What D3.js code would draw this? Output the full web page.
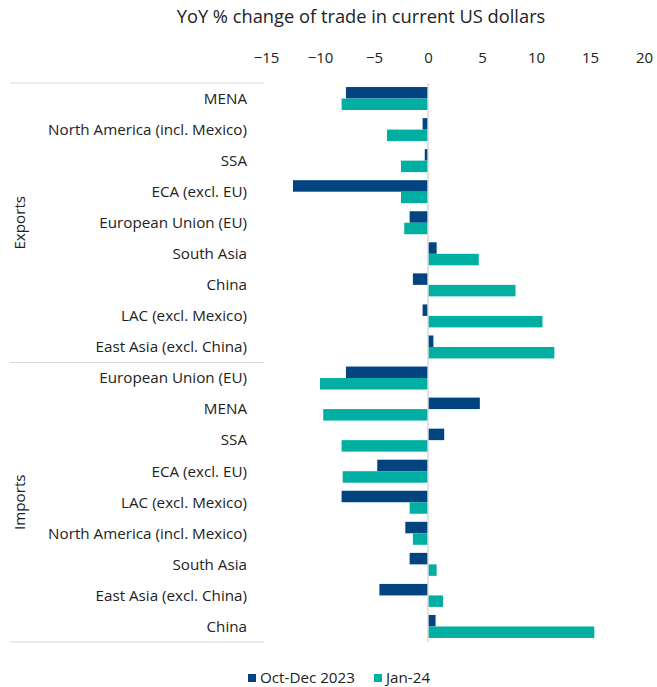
<!DOCTYPE html>
<html><head><meta charset="utf-8">
<script src="https://cdn.jsdelivr.net/npm/d3@7"></script>
<style>body{margin:0;background:#fff}svg{display:block;font-family:"Open Sans",sans-serif}</style>
</head><body><svg id="c" width="657" height="687"></svg>
<script>
const title = "YoY % change of trade in current US dollars";
const groups = ["Exports", "Imports"];
const exportCategories = ["MENA","North America (incl. Mexico)","SSA","ECA (excl. EU)","European Union (EU)","South Asia","China","LAC (excl. Mexico)","East Asia (excl. China)"];
const importCategories = ["European Union (EU)","MENA","SSA","ECA (excl. EU)","LAC (excl. Mexico)","North America (incl. Mexico)","South Asia","East Asia (excl. China)","China"];
const seriesNames = ["Oct-Dec 2023", "Jan-24"];
const exportsOctDec = [-7.6,-0.5,-0.3,-12.5,-1.7,0.8,-1.4,-0.5,0.5];
const exportsJan = [-8.0,-3.8,-2.5,-2.5,-2.2,4.7,8.1,10.6,11.7];
const importsOctDec = [-7.6,4.8,1.5,-4.7,-8.0,-2.1,-1.7,-4.5,0.7];
const importsJan = [-10.0,-9.7,-8.0,-7.9,-1.7,-1.4,0.8,1.4,15.4];
const xTicks = [-15,-10,-5,0,5,10,15,20];
const colors = ["#01447f", "#00afa1"];

(function(){
const rows = [];
exportCategories.forEach((c,i)=>rows.push({group:"Exports",cat:c,v:[exportsOctDec[i],exportsJan[i]]}));
importCategories.forEach((c,i)=>rows.push({group:"Imports",cat:c,v:[importsOctDec[i],importsJan[i]]}));

const svg = d3.select("#c");
const x = d3.scaleLinear().domain([-15,20]).range([266,644]);
const plotTop = 83, plotBottom = 642;
const y = d3.scaleBand().domain(d3.range(rows.length)).range([plotTop,plotBottom]).paddingInner(0.26).paddingOuter(0.13);
const y1 = d3.scaleBand().domain([0,1]).range([0,y.bandwidth()]);
const step = (plotBottom-plotTop)/rows.length;

svg.append("text").attr("x",361).attr("y",23).attr("text-anchor","middle")
  .attr("font-size",18.3).attr("fill","#222").text(title);

const ax = svg.append("g").attr("transform","translate(0,63)")
  .call(d3.axisTop(x).tickValues(xTicks).tickSize(0).tickPadding(0).tickFormat(d3.format("d")));
ax.select(".domain").remove();
ax.selectAll("text").attr("font-size",15).attr("fill","#222").attr("font-family","'Open Sans',sans-serif");

const sepY = [plotTop, plotTop + exportCategories.length*step, plotBottom];
svg.selectAll(".sep").data(sepY).join("line")
  .attr("x1",10).attr("x2",264).attr("y1",d=>d).attr("y2",d=>d)
  .attr("stroke","#d9d9d9").attr("stroke-width",1.2);

const g = svg.append("g");
rows.forEach((r,i)=>{
  r.v.forEach((v,s)=>{
    g.append("rect")
      .attr("x", x(Math.min(0,v)))
      .attr("width", Math.abs(x(v)-x(0)))
      .attr("y", y(i)+y1(s))
      .attr("height", y1.bandwidth())
      .attr("fill", colors[s]);
  });
});

svg.append("line").attr("x1",x(0)).attr("x2",x(0)).attr("y1",plotTop).attr("y2",plotBottom)
  .attr("stroke","#d9d9d9").attr("stroke-width",1.5);

svg.selectAll(".cl").data(rows).join("text")
  .attr("x",247).attr("y",(d,i)=>y(i)+y.bandwidth()/2).attr("dy","0.35em")
  .attr("text-anchor","end").attr("font-size",15.2).attr("fill","#222").text(d=>d.cat);

groups.forEach((gname,k)=>{
  const a = sepY[k], b = sepY[k+1];
  svg.append("text").attr("transform",`translate(25,${(a+b)/2}) rotate(-90)`)
    .attr("text-anchor","middle").attr("font-size",15.2).attr("fill","#222").text(gname);
});

const legX = [248, 374];
seriesNames.forEach((n,s)=>{
  svg.append("rect").attr("x",legX[s]).attr("y",674).attr("width",8).attr("height",8).attr("fill",colors[s]);
  svg.append("text").attr("x",legX[s]+12).attr("y",678).attr("dy","0.35em")
    .attr("font-size",15.2).attr("fill","#222").text(n);
});
})();
</script></body></html>
